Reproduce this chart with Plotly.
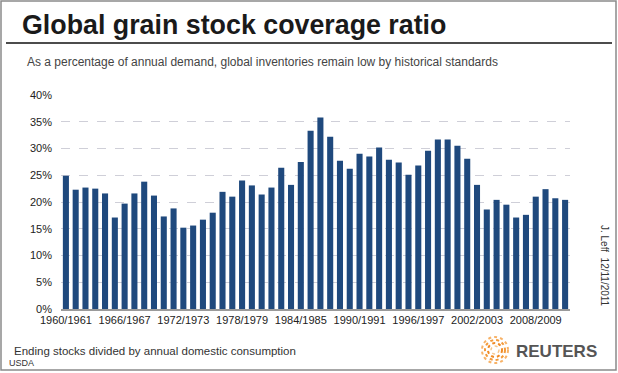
import plotly.graph_objects as go

# ---- data ----
seasons = [f"{y}/{y+1}" for y in range(1960, 2012)]
coverage = [24.9, 22.3, 22.7, 22.5, 21.6, 17.1, 19.7, 21.6, 23.8, 21.2,
            17.3, 18.8, 15.2, 15.6, 16.7, 18.0, 21.9, 21.0, 24.0, 23.1,
            21.4, 22.7, 26.4, 23.2, 27.5, 33.3, 35.8, 32.2, 27.7, 26.2,
            29.0, 28.5, 30.2, 27.9, 27.4, 25.1, 26.8, 29.6, 31.7, 31.7,
            30.5, 28.1, 23.2, 18.6, 20.4, 19.5, 17.1, 17.6, 21.0, 22.4,
            20.7, 20.4]
tick_labels = ["1960/1961", "1966/1967", "1972/1973", "1978/1979", "1984/1985",
               "1990/1991", "1996/1997", "2002/2003", "2008/2009"]

W, H = 618, 373
L, R, T, B = 61, 48, 95, 64
PW, PH = W - L - R, H - T - B
FONT = "Liberation Sans, Arial, sans-serif"

def px(x):
    return (x - L) / PW

def py(y):
    return (H - B - y) / PH

fig = go.Figure()
fig.add_trace(go.Bar(x=seasons, y=coverage, marker_color="#1F497D",
                     marker_line_width=0, hoverinfo="x+y"))

fig.update_layout(
    width=W, height=H,
    margin=dict(l=L, r=R, t=T, b=B),
    paper_bgcolor="white", plot_bgcolor="white",
    font=dict(family=FONT, size=11, color="#222222"),
    bargap=0.38,
    showlegend=False,
)
fig.update_xaxes(
    type="category", tickmode="array", tickvals=tick_labels, ticktext=tick_labels,
    tickangle=0, showgrid=False, showline=True, linecolor="#9a9a9a", linewidth=2,
    ticks="", tickfont=dict(size=11, color="#222222"), range=[-0.5, len(seasons) - 0.5],
)
fig.update_yaxes(
    range=[0, 40], dtick=5, ticksuffix="%", showgrid=True, gridcolor="#cfcfd8",
    griddash="dash", gridwidth=1, zeroline=False, showline=False, ticks="",
    ticklabelstandoff=8, tickfont=dict(size=11, color="#222222"),
)

ann = []
ann.append(dict(text="<b>Global grain stock coverage ratio</b>", x=px(20), y=py(25),
                xref="paper", yref="paper", xanchor="left", yanchor="middle",
                showarrow=False, font=dict(size=26.8, color="#1a1a1a")))
ann.append(dict(text="As a percentage of annual demand, global inventories remain low by historical standards",
                x=px(25), y=py(62), xref="paper", yref="paper", xanchor="left", yanchor="middle",
                showarrow=False, font=dict(size=12, color="#444444")))
ann.append(dict(text="Ending stocks divided by annual domestic consumption",
                x=px(12), y=py(351), xref="paper", yref="paper", xanchor="left", yanchor="middle",
                showarrow=False, font=dict(size=11.5, color="#333333")))
ann.append(dict(text="USDA", x=px(7), y=py(363), xref="paper", yref="paper",
                xanchor="left", yanchor="middle", showarrow=False,
                font=dict(size=9, color="#333333")))
ann.append(dict(text="J. Leff  12/11/2011", x=px(605), y=py(266), xref="paper", yref="paper",
                xanchor="center", yanchor="middle", textangle=90, showarrow=False,
                font=dict(size=10, color="#333333")))
ann.append(dict(text="<b>REUTERS</b>", x=px(514), y=py(351), xref="paper", yref="paper",
                xanchor="left", yanchor="middle", showarrow=False,
                font=dict(size=17, color="#555555")))
fig.update_layout(annotations=ann)

shapes = []
# outer border
shapes.append(dict(type="rect", xref="paper", yref="paper", x0=px(1), x1=px(616),
                   y0=py(370), y1=py(1), line=dict(color="#8a8a8a", width=1.5)))
# title rule
shapes.append(dict(type="line", xref="paper", yref="paper", x0=px(6), x1=px(612),
                   y0=py(43), y1=py(43), line=dict(color="#111111", width=1.5)))
# logo: dotted orange rings
cx, cy = 495, 350
for r, col, w in [(13, "#f7b267", 2), (10, "#f39a3a", 2), (7, "#f08a24", 2), (4, "#f7c58a", 1.5)]:
    shapes.append(dict(type="circle", xref="paper", yref="paper",
                       x0=px(cx - r), x1=px(cx + r), y0=py(cy + r), y1=py(cy - r),
                       line=dict(color=col, width=w, dash="dot")))
fig.update_layout(shapes=shapes)

fig.write_html("out.html", config={"displayModeBar": False},
               post_script="document.body.style.margin='0';document.body.style.overflow='hidden';")
